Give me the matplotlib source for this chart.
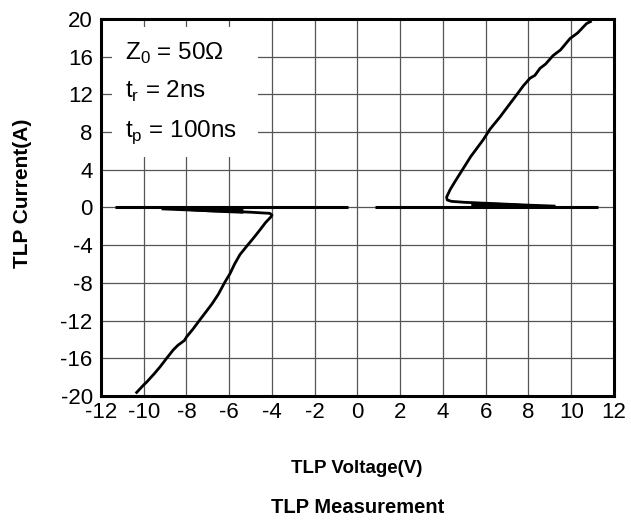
import matplotlib
matplotlib.use("Agg")
import matplotlib.pyplot as plt
from matplotlib.patches import Rectangle

plt.rcParams['font.family'] = ['Liberation Sans', 'DejaVu Sans']
plt.rcParams['axes.unicode_minus'] = False

# Baseline (zero-current) traces
neg_base_v = [-11.35, -0.45]
pos_base_v = [0.8, 11.25]

# Negative TLP curve
neg_v = [-9.1, -7.5, -6.0, -5.0, -4.4, -4.1, -4.0, -4.05, -4.3, -4.56, -4.85, -5.18, -5.5, -5.75,
         -5.96, -6.2, -6.51, -6.8, -7.1, -7.37, -7.7, -7.99, -8.1, -8.4, -8.62, -8.9, -9.24,
         -9.5, -9.86, -10.0, -10.33]
neg_i = [-0.15, -0.3, -0.4, -0.5, -0.58, -0.62, -0.8, -1.0, -1.6, -2.37, -3.2, -4.1, -5.0, -6.0,
         -7.0, -7.9, -9.2, -10.2, -11.1, -11.9, -12.9, -13.7, -14.1, -14.6, -15.1, -15.9, -16.9,
         -17.6, -18.5, -18.8, -19.6]
# Negative snapback band (lower edge)
neg_band_v = [-9.1, -8.0, -7.0, -6.0, -5.36]
neg_band_lo = [-0.15, -0.3, -0.45, -0.55, -0.6]

# Positive TLP curve
pos_v = [9.2, 8.0, 7.0, 6.0, 5.0, 4.4, 4.2, 4.17, 4.33, 4.55, 4.8, 5.3, 5.89, 6.2, 6.67, 7.0,
         7.4, 7.76, 8.07, 8.3, 8.54, 8.8, 9.15, 9.5, 9.94, 10.3, 10.72, 10.9]
pos_i = [0.15, 0.25, 0.35, 0.45, 0.55, 0.65, 0.8, 1.1, 1.87, 2.7, 3.6, 5.4, 7.2, 8.3, 9.6, 10.6,
         11.8, 12.9, 13.7, 14.0, 14.75, 15.2, 16.1, 16.7, 17.9, 18.5, 19.5, 19.7]
# Positive snapback band (upper edge)
pos_band_v = [5.3, 6.5, 7.5, 8.5, 9.2]
pos_band_hi = [0.65, 0.55, 0.45, 0.3, 0.12]

xticks = list(range(-12, 13, 2))
yticks = list(range(-20, 21, 4))

fig = plt.figure(figsize=(6.31, 5.22), dpi=100)
ax = fig.add_axes([0.160, 0.241, 0.813, 0.723])
ax.set_xlim(-12, 12)
ax.set_ylim(-20, 20)
ax.set_xticks(xticks)
ax.set_yticks(yticks)
ax.tick_params(axis='x', length=0, labelsize=16, pad=4)
ax.tick_params(axis='y', length=0, labelsize=16, pad=6)
ax.grid(True, color='#555555', linewidth=0.9)
ax.set_axisbelow(True)
for s in ax.spines.values():
    s.set_linewidth(2.2)
    s.set_color('black')

ax.plot(neg_base_v, [0, 0], color='black', lw=2.2, solid_capstyle='butt')
ax.plot(pos_base_v, [0, 0], color='black', lw=2.2, solid_capstyle='butt')
ax.fill_between(neg_band_v, neg_band_lo, 0, color='black', lw=0)
ax.fill_between(pos_band_v, 0, pos_band_hi, color='black', lw=0)
ax.plot(neg_v, neg_i, color='black', lw=2.0)
ax.plot(pos_v, pos_i, color='black', lw=2.0)

ax.add_patch(Rectangle((-11.49, 5.4), 6.84, 13.75, facecolor='white', edgecolor='none', zorder=3))
ax.text(-10.88, 15.65, r"Z$_{\mathregular{0}}$ = 50Ω", fontsize=17.5, zorder=4, va='baseline')
ax.text(-10.88, 11.6, r"t$_{\mathregular{r}}$ = 2ns", fontsize=17.5, zorder=4, va='baseline')
ax.text(-10.88, 7.5, r"t$_{\mathregular{p}}$ = 100ns", fontsize=17.5, zorder=4, va='baseline')

fig.text(0.566, 0.103, "TLP Voltage(V)", ha='center', va='center', fontsize=13.5, fontweight='bold')
fig.text(0.566, 0.027, "TLP Measurement", ha='center', va='center', fontsize=14.5, fontweight='bold')
fig.text(0.035, 0.63, "TLP Current(A)", ha='center', va='center', rotation=90, fontsize=15, fontweight='bold')

fig.savefig("out.png", dpi=100)
